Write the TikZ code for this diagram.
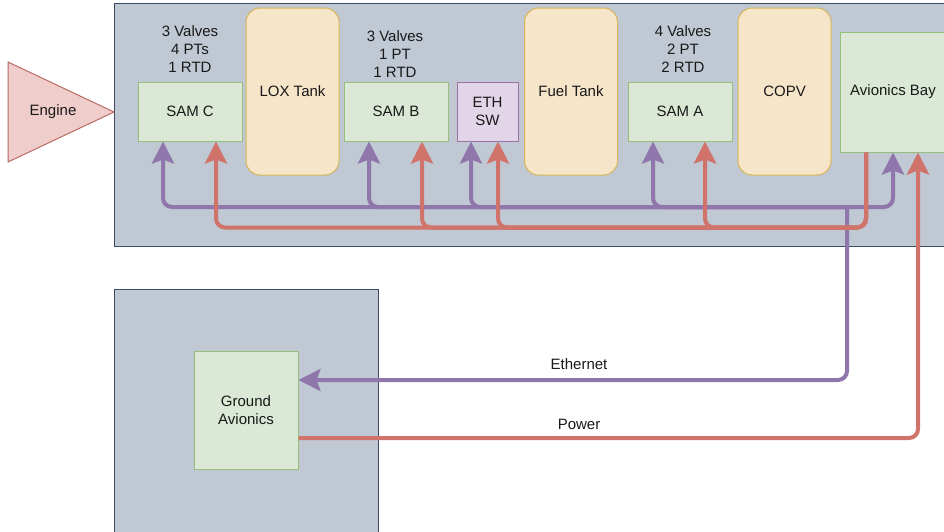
\documentclass[tikz,border=0pt]{standalone}
\usepackage{fontspec}
\setmainfont{Liberation Sans}
\usetikzlibrary{arrows.meta}
\definecolor{contfill}{HTML}{BFC8D3}
\definecolor{contdraw}{HTML}{3A4C5E}
\definecolor{grfill}{HTML}{DAE8D5}
\definecolor{grdraw}{HTML}{97BF7C}
\definecolor{tkfill}{HTML}{F6E5C9}
\definecolor{tkdraw}{HTML}{D6B656}
\definecolor{pufill}{HTML}{E1D5E7}
\definecolor{pudraw}{HTML}{9673A6}
\definecolor{enfill}{HTML}{EFCDCB}
\definecolor{endraw}{HTML}{B86A63}
\definecolor{ethc}{HTML}{8F77AB}
\definecolor{pwrc}{HTML}{D0736A}
\begin{document}
\begin{tikzpicture}[x=1pt,y=-1pt,
  every node/.style={font=\fontsize{15}{18}\selectfont, text=black!90},
  cont/.style={draw=contdraw, fill=contfill, line width=1pt},
  sam/.style={draw=grdraw, fill=grfill, line width=1pt, minimum width=104pt, minimum height=59pt, inner sep=0pt},
  tank/.style={draw=tkdraw, fill=tkfill, line width=1pt, rounded corners=14pt, minimum width=93pt, minimum height=167pt, inner sep=0pt},
  lbl/.style={align=center, inner sep=0pt},
  tip/.style={-{Stealth[length=22pt,width=22pt,inset=4pt]}},
  ethl/.style={draw=ethc, line width=4pt, rounded corners=9pt, tip},
  pwrl/.style={draw=pwrc, line width=4pt, rounded corners=9pt, tip}]
\useasboundingbox (0,0) rectangle (944,531);
\fill[white] (0,0) rectangle (944,531);
% containers
\path[cont] (114,3) rectangle (960,246);
\path[cont] (114,289) rectangle (378,545);
% engine
\draw[draw=endraw, fill=enfill, line width=1pt] (8,62) -- (114,112) -- (8,162) -- cycle;
\node[inner sep=0pt] (engine) at (53,112) {Engine};
% boxes
\node[sam] (samc) at (190,111.5) {SAM C};
\node[tank] (lox) at (292.5,91.5) {LOX Tank};
\node[sam] (samb) at (396,111.5) {SAM B};
\node[draw=pudraw, fill=pufill, line width=1pt, minimum width=61pt, minimum height=59pt, inner sep=0pt, align=center] (eth) at (487.5,111.5) {ETH\\SW};
\node[tank] (fuel) at (571,91.5) {Fuel Tank};
\node[sam] (sama) at (680,111.5) {SAM A};
\node[tank] (copv) at (784.5,91.5) {COPV};
\node[sam, minimum width=106pt, minimum height=120pt] (avb) at (893,92) {Avionics Bay};
\node[sam, minimum height=118pt, align=center] (gnd) at (246,410) {Ground\\Avionics};
% labels
\node[lbl] (lc) at (190,49) {3 Valves\\4 PTs\\1 RTD};
\node[lbl] (lb) at (395,54) {3 Valves\\1 PT\\1 RTD};
\node[lbl] (la) at (683,49) {4 Valves\\2 PT\\2 RTD};
\node[inner sep=0pt] (ethlbl) at (579,364) {Ethernet};
\node[inner sep=0pt] (pwrlbl) at (579,424) {Power};
% junctions
\coordinate (J) at (847,207);
\coordinate (R) at ([xshift=-27pt]avb.south);
% ethernet bus
\draw[ethl] (J) -| ([xshift=-27pt]samc.south);
\draw[ethl] (J) -| ([xshift=-27pt]samb.south);
\draw[ethl] (J) -| ([xshift=-16.5pt]eth.south);
\draw[ethl] (J) -| ([xshift=-27pt]sama.south);
\draw[ethl] (J) -| ([xshift=0pt]avb.south);
\draw[ethl] (J) |- ([yshift=30pt]gnd.east);
% power bus
\draw[pwrl] (R) -- ++(0,75) -| ([xshift=26pt]samc.south);
\draw[pwrl] (R) -- ++(0,75) -| ([xshift=26pt]samb.south);
\draw[pwrl] (R) -- ++(0,75) -| ([xshift=10.5pt]eth.south);
\draw[pwrl] (R) -- ++(0,75) -| ([xshift=25pt]sama.south);
\draw[pwrl] ([yshift=-28pt]gnd.east) -| ([xshift=25pt]avb.south);
\end{tikzpicture}
\end{document}
